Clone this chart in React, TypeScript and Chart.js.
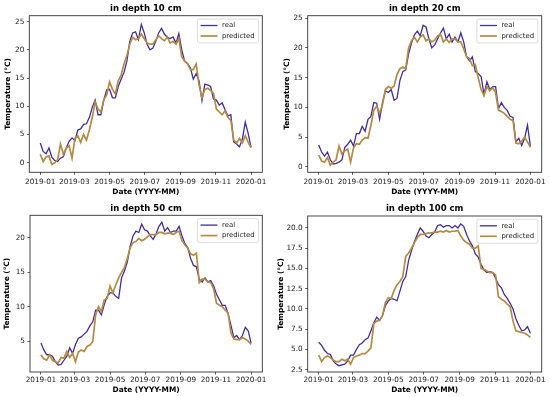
import React, { useEffect, useRef } from 'react';
import { Chart, registerables } from 'chart.js';

Chart.register(...registerables);

// sampling days (days since 2019-01-01)
const days = [0, 5, 10, 15, 20, 25, 30, 35, 40, 45, 50, 55, 60, 65, 70, 75, 80, 85, 90, 95, 100, 105, 110, 115, 120, 125, 130, 135, 140, 145, 150, 155, 160, 165, 170, 175, 180, 185, 190, 195, 200, 205, 210, 215, 220, 225, 230, 235, 240, 245, 250, 255, 260, 265, 270, 275, 280, 285, 290, 295, 300, 305, 310, 315, 320, 325, 330, 335, 340, 345, 350, 355, 360, 365];

const real10 = [3.5, 2.0, 1.6, 2.6, 1.0, 0.4, 0.2, 0.8, 1.1, 2.6, 3.8, 4.4, 3.9, 5.8, 6.0, 6.8, 6.9, 8.0, 9.8, 11.1, 8.5, 8.5, 11.1, 12.9, 13.0, 11.5, 11.5, 13.5, 14.8, 16.0, 18.0, 21.5, 23.0, 23.2, 21.8, 24.5, 23.0, 21.0, 20.0, 20.3, 21.5, 23.0, 23.8, 22.8, 22.2, 22.0, 22.3, 21.2, 22.9, 20.0, 18.0, 17.6, 16.8, 14.8, 15.8, 14.5, 11.0, 13.9, 13.8, 13.5, 11.3, 11.1, 10.2, 10.6, 9.4, 8.3, 8.5, 3.7, 3.3, 2.8, 4.2, 7.2, 5.2, 2.7];
const pred10 = [1.5, 0.2, 1.0, 1.2, -0.3, 0.0, 0.5, 3.3, 1.5, 2.6, 3.0, 0.8, 4.3, 4.8, 3.6, 5.0, 4.0, 5.8, 8.0, 10.8, 9.5, 9.0, 11.2, 12.0, 14.3, 13.0, 12.2, 14.5, 15.5, 17.5, 19.0, 21.0, 22.2, 21.8, 22.0, 22.8, 22.0, 21.2, 21.0, 21.0, 21.8, 22.5, 22.0, 21.6, 22.3, 21.2, 21.5, 21.0, 22.0, 18.8, 18.0, 17.5, 16.5, 16.5, 17.5, 13.8, 11.5, 13.0, 13.2, 12.8, 12.3, 9.5, 9.0, 8.5, 9.2, 8.0, 7.5, 4.0, 3.5, 4.3, 3.5, 4.8, 3.6, 2.7];

const real20 = [3.7, 2.5, 1.8, 2.5, 1.2, 0.5, 0.6, 0.8, 1.2, 3.3, 3.8, 4.5, 3.5, 5.6, 5.6, 6.8, 6.0, 8.0, 8.5, 10.8, 10.7, 8.0, 10.8, 12.8, 12.5, 13.0, 11.2, 11.5, 14.5, 16.0, 16.3, 19.0, 20.8, 22.2, 22.8, 22.0, 23.8, 23.5, 21.5, 20.0, 20.5, 21.5, 22.5, 23.3, 21.5, 22.3, 21.0, 21.8, 21.0, 22.5, 21.0, 18.5, 17.8, 18.5, 16.0, 15.7, 15.2, 12.2, 14.3, 13.0, 13.5, 13.5, 9.8, 10.8, 10.0, 9.5, 8.5, 8.3, 4.2, 4.8, 3.6, 4.8, 7.0, 3.5];
const pred20 = [2.0, 1.0, 0.8, 1.6, 0.3, 0.8, 1.2, 3.5, 2.2, 2.7, 3.0, 0.8, 3.2, 3.9, 3.8, 4.5, 4.9, 4.8, 7.0, 9.5, 10.2, 9.0, 10.5, 13.0, 13.5, 13.2, 13.6, 15.5, 16.5, 16.8, 16.5, 20.0, 21.2, 21.8, 21.0, 21.8, 22.2, 21.2, 21.5, 21.0, 21.3, 22.0, 22.3, 21.0, 21.5, 20.9, 21.5, 21.5, 21.0, 21.0, 19.8, 18.5, 18.2, 17.0, 17.2, 15.0, 13.0, 12.0, 13.5, 12.8, 13.3, 12.5, 9.5, 9.3, 9.0, 8.5, 8.0, 7.8, 4.0, 3.9, 4.3, 5.0, 4.2, 3.3];

const real50 = [4.7, 3.7, 3.0, 3.0, 2.8, 2.0, 1.5, 1.6, 2.2, 2.8, 4.0, 3.2, 4.5, 5.4, 5.6, 6.0, 6.4, 7.2, 7.8, 9.5, 9.5, 8.8, 10.3, 11.5, 12.0, 12.0, 11.5, 11.2, 14.2, 15.2, 16.5, 18.8, 20.3, 21.0, 20.8, 22.0, 21.2, 21.0, 20.3, 19.8, 20.6, 21.7, 22.3, 21.0, 21.5, 20.8, 21.0, 21.0, 21.7, 20.3, 19.2, 18.6, 17.0, 16.0, 15.8, 14.0, 13.6, 14.2, 13.6, 13.8, 13.0, 11.8, 11.0, 10.2, 10.2, 9.0, 7.3, 5.5, 5.8, 5.2, 5.8, 7.0, 6.5, 4.7];
const pred50 = [3.0, 2.4, 2.2, 3.0, 2.2, 2.0, 1.8, 2.6, 2.5, 3.5, 2.6, 3.2, 2.0, 3.4, 3.7, 3.5, 4.2, 4.4, 4.9, 8.8, 10.0, 9.3, 11.0, 11.2, 13.0, 12.0, 13.2, 14.2, 15.0, 15.7, 17.0, 18.6, 19.3, 19.5, 19.9, 19.6, 19.8, 20.2, 20.5, 20.5, 20.5, 20.8, 20.8, 20.6, 20.7, 20.7, 20.5, 20.8, 21.0, 19.6, 19.0, 18.5, 17.7, 17.5, 17.8, 13.5, 14.0, 14.0, 13.6, 13.5, 12.6, 10.5, 10.2, 10.0, 9.5, 9.1, 6.2, 5.3, 5.2, 5.2, 5.5, 5.3, 5.0, 4.5];

const real100 = [5.9, 5.5, 4.9, 4.5, 4.4, 3.6, 3.2, 3.0, 3.1, 3.2, 3.6, 4.3, 4.3, 5.0, 5.6, 5.8, 6.2, 6.4, 7.3, 8.3, 9.0, 8.6, 9.2, 10.4, 11.0, 11.3, 11.2, 11.0, 12.2, 13.4, 14.0, 16.0, 17.2, 18.3, 19.2, 20.0, 19.6, 19.0, 18.8, 19.2, 19.5, 20.3, 20.4, 20.1, 20.3, 20.3, 20.0, 20.3, 20.0, 20.5, 20.2, 19.2, 18.4, 17.8, 16.8, 16.4, 15.5, 14.8, 14.5, 14.6, 14.5, 13.8, 13.0, 12.6, 11.8, 11.3, 10.7, 10.0, 8.8, 8.0, 7.3, 7.4, 7.8, 7.0];
const pred100 = [4.3, 3.5, 4.0, 4.2, 4.0, 3.7, 3.5, 3.5, 3.8, 3.6, 3.8, 3.2, 4.0, 4.2, 4.3, 4.5, 4.5, 4.8, 5.2, 8.2, 8.5, 8.6, 9.2, 10.8, 11.4, 11.3, 12.3, 13.0, 13.4, 14.0, 16.5, 16.9, 17.5, 18.2, 18.8, 19.2, 19.2, 19.3, 19.4, 19.4, 19.5, 19.5, 19.6, 19.5, 19.7, 19.5, 19.6, 19.6, 19.7, 19.0, 18.5, 18.2, 18.0, 17.5, 17.5, 17.8, 15.0, 14.9, 14.7, 14.5, 14.5, 14.2, 11.5, 11.2, 11.0, 10.6, 10.3, 8.5, 7.3, 7.2, 7.1, 7.0, 6.8, 6.5];

const xTickDays = [0, 59, 120, 181, 243, 304, 365];
const xTickLabels = ['2019-01', '2019-03', '2019-05', '2019-07', '2019-09', '2019-11', '2020-01'];
const yTicks10 = [0, 5, 10, 15, 20, 25];
const yTicks20 = [0, 5, 10, 15, 20, 25];
const yTicks50 = [5, 10, 15, 20];
const yTicks100 = [2.5, 5.0, 7.5, 10.0, 12.5, 15.0, 17.5, 20.0];
const panelTitles = ['in depth 10 cm', 'in depth 20 cm', 'in depth 50 cm', 'in depth 100 cm'];
const seriesNames = ['real', 'predicted'];
const xAxisTitle = 'Date (YYYY-MM)';
const yAxisTitle = 'Temperature (°C)';

const REAL_COLOR = '#3f2e9e';
const PRED_COLOR = '#b38b45';
const FONT = "'DejaVu Sans', sans-serif";
const TEXT = '#1a1a1a';

type Panel = {
  title: string; real: number[]; pred: number[]; yTicks: number[]; yMin: number; yMax: number; dec: number;
  left: number; top: number; w: number; h: number;
  area: { l: number; t: number; r: number; b: number };
  titleY: number; yTitlePad: number; xTitlePad: number; xTickPad: number;
};

const panels: Panel[] = [
  { title: panelTitles[0], real: real10, pred: pred10, yTicks: yTicks10, yMin: -1.7, yMax: 26.05, dec: 0,
    left: 0, top: 0, w: 275, h: 198, area: { l: 29.3, t: 15.7, r: 262.3, b: 172.3 },
    titleY: 9, yTitlePad: 3.6, xTitlePad: 1.9, xTickPad: 2.5 },
  { title: panelTitles[1], real: real20, pred: pred20, yTicks: yTicks20, yMin: -0.9, yMax: 25.4, dec: 0,
    left: 275, top: 0, w: 275, h: 198, area: { l: 32.7, t: 15.7, r: 266.7, b: 172.3 },
    titleY: 9, yTitlePad: 7.3, xTitlePad: 1.9, xTickPad: 2.5 },
  { title: panelTitles[2], real: real50, pred: pred50, yTicks: yTicks50, yMin: 0.49, yMax: 23.3, dec: 0,
    left: 0, top: 198, w: 275, h: 199, area: { l: 30, t: 17.3, r: 262.3, b: 174 },
    titleY: 10.7, yTitlePad: 2.9, xTitlePad: 2.9, xTickPad: 0.9 },
  { title: panelTitles[3], real: real100, pred: pred100, yTicks: yTicks100, yMin: 2.22, yMax: 21.48, dec: 1,
    left: 275, top: 198, w: 275, h: 199, area: { l: 32.7, t: 18, r: 266.7, b: 174 },
    titleY: 10.7, yTitlePad: 1.9, xTitlePad: 2.9, xTickPad: 0.9 },
];

function makePlugins(p: Panel) {
  const legend = {
    id: 'boxLegend',
    afterDatasetsDraw(chart: any) {
      const { ctx, chartArea } = chart;
      const bw = 61, bh = 24;
      const x0 = chartArea.right - 3.8 - bw;
      const y0 = chartArea.top + 3.3;
      ctx.save();
      ctx.beginPath();
      const r = 2;
      ctx.moveTo(x0 + r, y0);
      ctx.lineTo(x0 + bw - r, y0);
      ctx.quadraticCurveTo(x0 + bw, y0, x0 + bw, y0 + r);
      ctx.lineTo(x0 + bw, y0 + bh - r);
      ctx.quadraticCurveTo(x0 + bw, y0 + bh, x0 + bw - r, y0 + bh);
      ctx.lineTo(x0 + r, y0 + bh);
      ctx.quadraticCurveTo(x0, y0 + bh, x0, y0 + bh - r);
      ctx.lineTo(x0, y0 + r);
      ctx.quadraticCurveTo(x0, y0, x0 + r, y0);
      ctx.closePath();
      ctx.fillStyle = 'rgba(255,255,255,0.85)';
      ctx.fill();
      ctx.strokeStyle = '#d4d4d4';
      ctx.lineWidth = 0.8;
      ctx.stroke();
      const entries = [
        { label: seriesNames[0], color: REAL_COLOR, lw: 1.3 },
        { label: seriesNames[1], color: PRED_COLOR, lw: 1.7 },
      ];
      entries.forEach((e, i) => {
        const y = y0 + 6.5 + i * 10.5;
        ctx.beginPath();
        ctx.strokeStyle = e.color;
        ctx.lineWidth = e.lw;
        ctx.moveTo(x0 + 3, y);
        ctx.lineTo(x0 + 20, y);
        ctx.stroke();
        ctx.fillStyle = TEXT;
        ctx.font = `6.9px ${FONT}`;
        ctx.textBaseline = 'middle';
        ctx.textAlign = 'left';
        ctx.fillText(e.label, x0 + 24.5, y);
      });
      ctx.restore();
    },
  };
  const frame = {
    id: 'frameTitle',
    afterDraw(chart: any) {
      const { ctx, chartArea } = chart;
      ctx.save();
      ctx.strokeStyle = '#333';
      ctx.lineWidth = 0.9;
      ctx.strokeRect(chartArea.left, chartArea.top, chartArea.right - chartArea.left, chartArea.bottom - chartArea.top);
      ctx.fillStyle = '#000';
      ctx.font = `bold 8.5px ${FONT}`;
      ctx.textAlign = 'center';
      ctx.textBaseline = 'middle';
      ctx.fillText(p.title, (chartArea.left + chartArea.right) / 2, p.titleY);
      ctx.restore();
    },
  };
  return [legend, frame];
}

function PanelChart({ p }: { p: Panel }) {
  const ref = useRef<HTMLCanvasElement | null>(null);
  useEffect(() => {
    if (!ref.current) return;
    const chart = new Chart(ref.current, {
      type: 'line',
      data: {
        datasets: [
          {
            label: seriesNames[0],
            data: days.map((d, i) => ({ x: d, y: p.real[i] })),
            borderColor: REAL_COLOR,
            borderWidth: 1.3,
            pointRadius: 0,
            tension: 0,
            fill: false,
            order: 1,
          },
          {
            label: seriesNames[1],
            data: days.map((d, i) => ({ x: d, y: p.pred[i] })),
            borderColor: PRED_COLOR,
            borderWidth: 1.7,
            pointRadius: 0,
            tension: 0,
            fill: false,
            order: 0,
          },
        ],
      },
      options: {
        animation: false,
        responsive: false,
        maintainAspectRatio: false,
        events: [],
        layout: { padding: { left: 0, top: p.area.t, right: p.w - p.area.r, bottom: 0 } },
        plugins: { legend: { display: false }, title: { display: false }, tooltip: { enabled: false } },
        scales: {
          x: {
            type: 'linear',
            min: -19,
            max: 384.5,
            afterBuildTicks: (s: any) => { s.ticks = xTickDays.map((v) => ({ value: v })); },
            afterFit: (s: any) => { s.height = p.h - p.area.b; },
            ticks: {
              autoSkip: false, maxRotation: 0, minRotation: 0, padding: p.xTickPad, color: TEXT,
              font: { family: FONT, size: 7.3 },
              callback: (v: any) => { const i = xTickDays.indexOf(Number(v)); return i >= 0 ? xTickLabels[i] : ''; },
            },
            grid: { display: true, drawOnChartArea: false, drawTicks: true, tickLength: 2.5, color: '#333', lineWidth: 0.8 },
            border: { display: false },
            title: { display: true, text: xAxisTitle, color: '#000', font: { family: FONT, size: 7.4, weight: 'bold' }, padding: { top: 0, bottom: p.xTitlePad } },
          },
          y: {
            type: 'linear',
            min: p.yMin,
            max: p.yMax,
            afterBuildTicks: (s: any) => { s.ticks = p.yTicks.map((v) => ({ value: v })); },
            afterFit: (s: any) => { s.width = p.area.l; },
            ticks: {
              padding: 2.5, color: TEXT, font: { family: FONT, size: 7.3 },
              callback: (v: any) => Number(v).toFixed(p.dec),
            },
            grid: { display: true, drawOnChartArea: false, drawTicks: true, tickLength: 2.5, color: '#333', lineWidth: 0.8 },
            border: { display: false },
            title: { display: true, text: yAxisTitle, color: '#000', font: { family: FONT, size: 7.4, weight: 'bold' }, padding: { top: p.yTitlePad, bottom: 0 } },
          },
        },
      } as any,
      plugins: makePlugins(p) as any,
    });
    return () => chart.destroy();
  }, [p]);
  return (
    <canvas
      ref={ref}
      width={p.w}
      height={p.h}
      style={{ position: 'absolute', left: p.left, top: p.top, width: p.w, height: p.h }}
    />
  );
}

export default function App() {
  return (
    <div style={{ position: 'absolute', left: 0, top: 0, width: 550, height: 397, background: '#fff', overflow: 'hidden' }}>
      {panels.map((p, i) => (
        <PanelChart key={i} p={p} />
      ))}
    </div>
  );
}
